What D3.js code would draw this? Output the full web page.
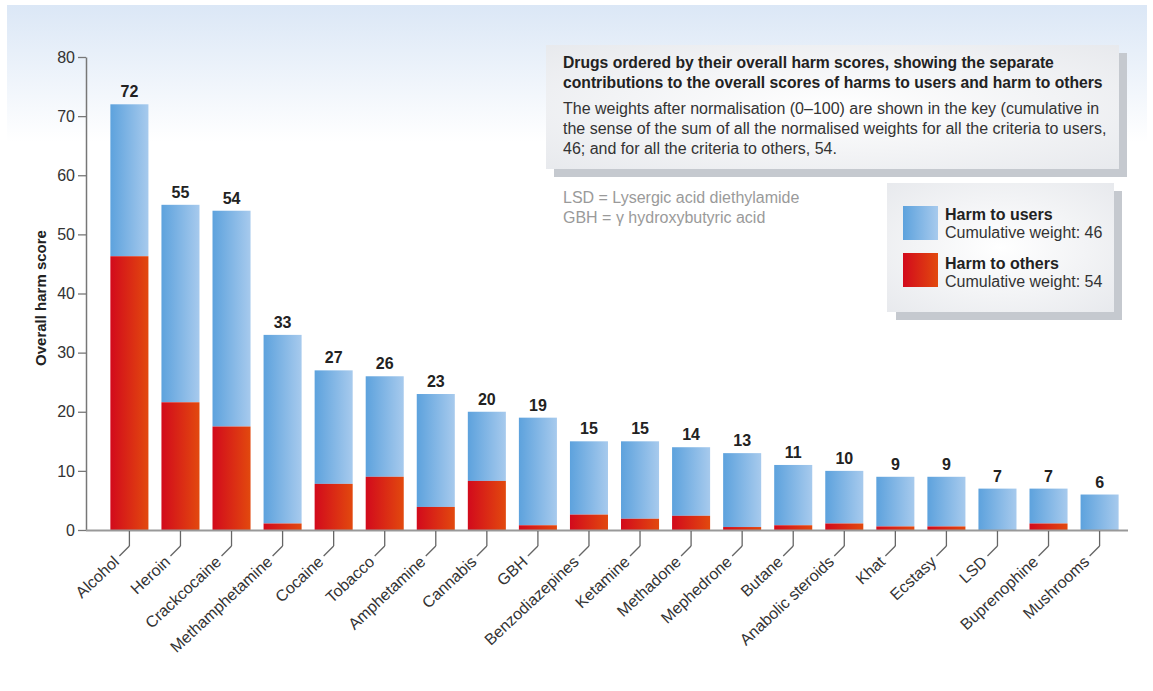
<!DOCTYPE html>
<html><head><meta charset="utf-8">
<script src="https://cdn.jsdelivr.net/npm/d3@7"></script>
<style>
body{margin:0;background:#fff;}
svg{display:block;font-family:"Liberation Sans",Arial,Helvetica,sans-serif;}
</style></head>
<body>
<svg id="chart" width="1153" height="691"></svg>
<script>
const drugs = ["Alcohol","Heroin","Crackcocaine","Methamphetamine","Cocaine","Tobacco","Amphetamine","Cannabis","GBH","Benzodiazepines","Ketamine","Methadone","Mephedrone","Butane","Anabolic steroids","Khat","Ecstasy","LSD","Buprenophine","Mushrooms"];
const totals = [72,55,54,33,27,26,23,20,19,15,15,14,13,11,10,9,9,7,7,6];
const harmOthers = [46.3,21.6,17.5,1.1,7.8,9.0,3.9,8.3,0.8,2.6,1.9,2.4,0.5,0.8,1.1,0.6,0.6,0,1.1,0];
const harmUsers = totals.map((t,i)=>t-harmOthers[i]);
const yTicks = [0,10,20,30,40,50,60,70,80];
const titleLines = ["Drugs ordered by their overall harm scores, showing the separate","contributions to the overall scores of harms to users and harm to others"];
const bodyLines = ["The weights after normalisation (0\u2013100) are shown in the key (cumulative in","the sense of the sum of all the normalised weights for all the criteria to users,","46; and for all the criteria to others, 54."];
const noteLines = ["LSD = Lysergic acid diethylamide","GBH = \u03b3 hydroxybutyric acid"];
const legendItems = [{name:"Harm to users",sub:"Cumulative weight: 46",fill:"url(#gBlue)"},{name:"Harm to others",sub:"Cumulative weight: 54",fill:"url(#gRed)"}];

const svg = d3.select("#chart");
const defs = svg.append("defs");
function lin(id, stops, x2, y2){
  const g = defs.append("linearGradient").attr("id",id).attr("x1",0).attr("y1",0).attr("x2",x2).attr("y2",y2);
  stops.forEach(s=>g.append("stop").attr("offset",s[0]).attr("stop-color",s[1]));
}
lin("gBg",[[0,"#dbe7f6"],[0.2,"#ffffff"],[1,"#ffffff"]],0,1);
lin("gBlue",[[0,"#5da2dd"],[1,"#a7caed"]],1,0);
lin("gRed",[[0,"#d20a1c"],[1,"#e2490e"]],1,0);
const rg = defs.append("radialGradient").attr("id","gBox").attr("cx","50%").attr("cy","50%").attr("r","75%");
rg.append("stop").attr("offset",0).attr("stop-color","#ffffff");
rg.append("stop").attr("offset",1).attr("stop-color","#e6e8ec");

svg.append("rect").attr("x",7).attr("y",5).attr("width",1140).attr("height",686).attr("fill","url(#gBg)");

const x = d3.scaleBand().domain(drugs).range([104,1125]).paddingInner(0.255).paddingOuter(0.125);
const y = d3.scaleLinear().domain([0,80]).range([530,57]);

// bars
const g = svg.append("g");
g.selectAll("rect.users").data(drugs).join("rect")
  .attr("x",d=>x(d)).attr("width",x.bandwidth())
  .attr("y",(d,i)=>y(totals[i])).attr("height",(d,i)=>y(harmOthers[i])-y(totals[i]))
  .attr("fill","url(#gBlue)");
g.selectAll("rect.others").data(drugs).join("rect")
  .attr("x",d=>x(d)).attr("width",x.bandwidth())
  .attr("y",(d,i)=>y(harmOthers[i])).attr("height",(d,i)=>y(0)-y(harmOthers[i]))
  .attr("fill","url(#gRed)");
g.selectAll("text.tot").data(drugs).join("text")
  .attr("x",d=>x(d)+x.bandwidth()/2).attr("y",(d,i)=>y(totals[i])-7)
  .attr("text-anchor","middle").attr("font-size",16).attr("font-weight","bold").attr("fill","#222")
  .text((d,i)=>totals[i]);

// y axis
const ya = svg.append("g").attr("transform","translate(86,0)")
  .call(d3.axisLeft(y).tickValues(yTicks).tickSize(8).tickSizeOuter(0).tickPadding(3));
ya.select(".domain").attr("stroke","#777").attr("stroke-width",1.5);
ya.selectAll(".tick line").attr("stroke","#777").attr("stroke-width",1.3);
ya.selectAll(".tick text").attr("font-size",16).attr("fill","#333").attr("font-family","Liberation Sans, Arial, sans-serif");

svg.append("text").attr("transform","translate(46,298) rotate(-90)").attr("text-anchor","middle")
  .attr("font-size",15).attr("font-weight","bold").attr("fill","#222").text("Overall harm score");

// x axis
svg.append("line").attr("x1",86).attr("x2",1128).attr("y1",530.5).attr("y2",530.5).attr("stroke","#999").attr("stroke-width",2);
const xa = svg.append("g").attr("transform","translate(0,531)")
  .call(d3.axisBottom(x).tickSize(15).tickSizeOuter(0).tickFormat(""));
xa.select(".domain").remove();
xa.selectAll(".tick line").attr("stroke","#666").attr("stroke-width",1.3);
xa.selectAll(".tick").append("line").attr("x1",0).attr("y1",15).attr("x2",-10).attr("y2",25)
  .attr("stroke","#666").attr("stroke-width",1.3);
xa.selectAll(".tick").append("text").text(d=>d)
  .attr("transform","translate(-13,28) rotate(-43)").attr("text-anchor","end").attr("dy","0.35em")
  .attr("font-size",16).attr("fill","#333").attr("font-family","Liberation Sans, Arial, sans-serif");

// info box
svg.append("rect").attr("x",554).attr("y",53).attr("width",573).attr("height",124).attr("fill","#c5c9cf");
svg.append("rect").attr("x",546).attr("y",45).attr("width",573).attr("height",124).attr("fill","url(#gBox)");
titleLines.forEach((t,i)=>svg.append("text").attr("x",563).attr("y",68+i*20).attr("font-size",15.7).attr("font-weight","bold").attr("fill","#222").text(t));
bodyLines.forEach((t,i)=>svg.append("text").attr("x",563).attr("y",114+i*20).attr("font-size",16).attr("fill","#333").text(t));
noteLines.forEach((t,i)=>svg.append("text").attr("x",563).attr("y",203+i*20).attr("font-size",16).attr("fill","#9a9a9a").text(t));

// legend
svg.append("rect").attr("x",896).attr("y",191).attr("width",226).attr("height",129).attr("fill","#c5c9cf");
svg.append("rect").attr("x",887).attr("y",183).attr("width",227).attr("height",129).attr("fill","url(#gBox)");
legendItems.forEach((it,i)=>{
  const yy = 206 + i*47;
  svg.append("rect").attr("x",903).attr("y",yy).attr("width",35).attr("height",34).attr("fill",it.fill);
  svg.append("text").attr("x",945).attr("y",yy+14+i*2).attr("font-size",16).attr("font-weight","bold").attr("fill","#222").text(it.name);
  svg.append("text").attr("x",945).attr("y",yy+32+i*2).attr("font-size",16).attr("fill","#333").text(it.sub);
});
</script>
</body></html>
